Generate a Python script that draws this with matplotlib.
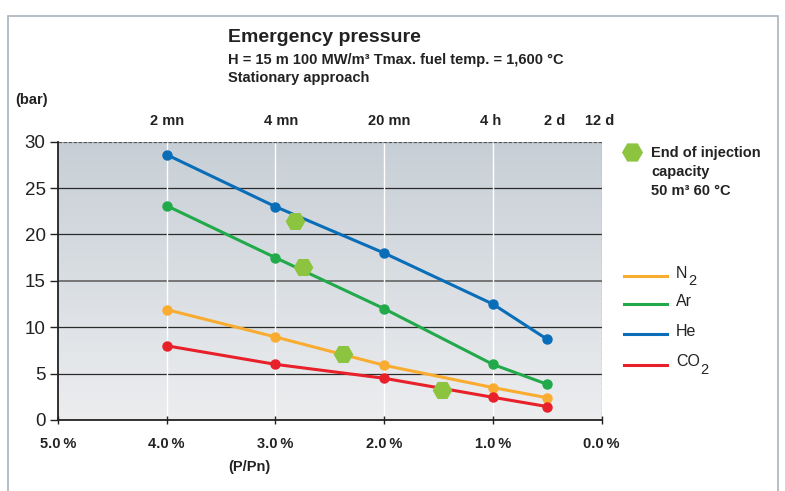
import numpy as np
import matplotlib
matplotlib.use("Agg")
import matplotlib.pyplot as plt
from matplotlib.patches import Rectangle
from matplotlib.lines import Line2D

# ---- data ----
load_pct = [4.0, 3.0, 2.0, 1.0, 0.5]
he = [28.6, 23.0, 18.0, 12.5, 8.7]
ar = [23.1, 17.5, 12.0, 6.0, 3.85]
n2 = [11.9, 8.95, 5.9, 3.5, 2.4]
co2 = [8.0, 6.0, 4.5, 2.45, 1.45]

inj_x = [2.82, 2.75, 2.38, 1.47]
inj_y = [21.5, 16.45, 7.1, 3.2]

x_ticks = [5.0, 4.0, 3.0, 2.0, 1.0, 0.0]
x_tick_labels = ["5.0\u2009%", "4.0\u2009%", "3.0\u2009%", "2.0\u2009%", "1.0\u2009%", "0.0\u2009%"]
y_ticks = [0, 5, 10, 15, 20, 25, 30]
top_tick_pos = [4.0, 2.95, 1.95, 1.02, 0.43, 0.02]
top_tick_labels = ["2 mn", "4 mn", "20 mn", "4 h", "2 d", "12 d"]

# legend entries: (base text, subscript, colour)
legend_entries = [("N", "2", "#f9ac2f"), ("Ar", "", "#21a94a"), ("He", "", "#0a6db8"), ("CO", "2", "#e8202a")]
draw_order = [("He", he, "#0a6db8"), ("Ar", ar, "#21a94a"), ("N2", n2, "#f9ac2f"), ("CO2", co2, "#e8202a")]

FAM = ["Liberation Sans Narrow", "Liberation Sans", "DejaVu Sans"]
plt.rcParams['font.family'] = ["Liberation Sans", "DejaVu Sans"]

fig = plt.figure(figsize=(7.85, 4.91), dpi=100)
W, H = 785, 491

# outer frame
fig.patches.append(Rectangle((8 / W, -0.1), (778 - 8) / W, (H - 16) / H + 0.1,
                             transform=fig.transFigure, fill=False,
                             edgecolor="#a9b4bd", linewidth=1.2))

ax = fig.add_axes([58 / W, (H - 420) / H, (601.5 - 58) / W, (420 - 141.7) / H])
ax.set_xlim(5.0, 0.0)
ax.set_ylim(0, 30)

# gradient background
grad = np.linspace(0, 1, 256).reshape(-1, 1)
top_c = np.array([199, 207, 214]) / 255
bot_c = np.array([236, 237, 239]) / 255
img = top_c[None, None, :] * (1 - grad[:, :, None]) + bot_c[None, None, :] * grad[:, :, None]
ax.imshow(img, extent=[0, 1, 0, 1], transform=ax.transAxes, aspect="auto", zorder=0)

# grid lines
for y in y_ticks[1:-1]:
    ax.axhline(y, color="#6e6e6e" if y == 15 else "#2b2b2b", lw=1.3 if y == 15 else 0.9, zorder=1)
for x in x_ticks[1:-1]:
    ax.axvline(x, color="white", lw=1.0, zorder=1)
ax.axhline(30, color="#555555", lw=0.9, ls=(0, (3, 1)), zorder=1)
ax.axvline(0.0, color="#888888", lw=0.9, ls=(0, (3, 1)), zorder=1)

for name, vals, col in draw_order:
    ax.plot(load_pct, vals, color=col, lw=2.2, marker="o", ms=6.5, zorder=3, solid_capstyle="round")

ax.plot(inj_x, inj_y, ls="none", marker="H", ms=13, color="#8cc43f", zorder=4)

for s in ["top", "right"]:
    ax.spines[s].set_visible(False)
for s in ["left", "bottom"]:
    ax.spines[s].set_color("#222222")
    ax.spines[s].set_linewidth(1.3)

ax.set_yticks(y_ticks)
ax.set_yticklabels([str(v) for v in y_ticks], fontsize=13.5, color="#222222")
ax.set_xticks(x_ticks)
ax.set_xticklabels(x_tick_labels, fontsize=10.5, fontweight="bold", family=FAM, color="#222222")
ax.tick_params(axis="y", length=6, width=1.0, color="#222222", pad=3)
ax.tick_params(axis="x", length=6, width=1.0, color="#222222", pad=9, direction="inout")

# top time axis
ax2 = ax.twiny()
ax2.set_xlim(ax.get_xlim())
ax2.set_xticks(top_tick_pos)
ax2.set_xticklabels(top_tick_labels, fontsize=10.5, fontweight="bold", color="#222222")
ax2.tick_params(axis="x", length=0, pad=10)
for s in ax2.spines.values():
    s.set_visible(False)

# texts
fig.text(228 / W, 1 - 38 / H, "Emergency pressure", fontsize=14, fontweight="bold",
         va="center", ha="left", color="#222222")
fig.text(228 / W, 1 - 60 / H, "H = 15 m 100 MW/m\u00b3 Tmax. fuel temp. = 1,600 \u00b0C",
         fontsize=10.5, fontweight="bold", va="center", ha="left", color="#222222")
fig.text(228 / W, 1 - 78 / H, "Stationary approach", fontsize=10.5, fontweight="bold",
         va="center", ha="left", color="#222222")
fig.text(15 / W, 1 - 100 / H, "(bar)", fontsize=10.5, fontweight="bold", va="center",
         ha="left", color="#222222")
fig.text(249 / W, 1 - 467 / H, "(P/Pn)", fontsize=10.5, fontweight="bold", va="center",
         ha="center", color="#222222", family=FAM)

# legend (manual)
fig.add_artist(Line2D([632 / W], [1 - 152 / H], marker="H", ms=14, color="#8cc43f",
                      ls="none", transform=fig.transFigure))
fig.text(651 / W, 1 - 153 / H, "End of injection", fontsize=10.5, fontweight="bold",
         va="center", ha="left", color="#222222")
fig.text(651 / W, 1 - 172 / H, "capacity", fontsize=10.5, fontweight="bold",
         va="center", ha="left", color="#222222")
fig.text(651 / W, 1 - 191 / H, "50 m\u00b3 60 \u00b0C", fontsize=10.5, fontweight="bold",
         va="center", ha="left", color="#222222")

leg_y = [276, 304, 334, 365]
fig.canvas.draw()
renderer = fig.canvas.get_renderer()
for (base, sub, col), yy in zip(legend_entries, leg_y):
    fig.add_artist(Line2D([624 / W, 667 / W], [1 - yy / H, 1 - yy / H], color=col, lw=2.2,
                          transform=fig.transFigure))
    t = fig.text(676 / W, 1 - (yy - 3) / H, base, fontsize=11.5, va="center", ha="left", color="#222222")
    if sub:
        bb = t.get_window_extent(renderer=renderer)
        fig.text((bb.x1 + 0.5) / W, 1 - (yy + 5) / H, sub, fontsize=10.5, va="center",
                 ha="left", color="#222222")

fig.savefig("out.png", dpi=100)
